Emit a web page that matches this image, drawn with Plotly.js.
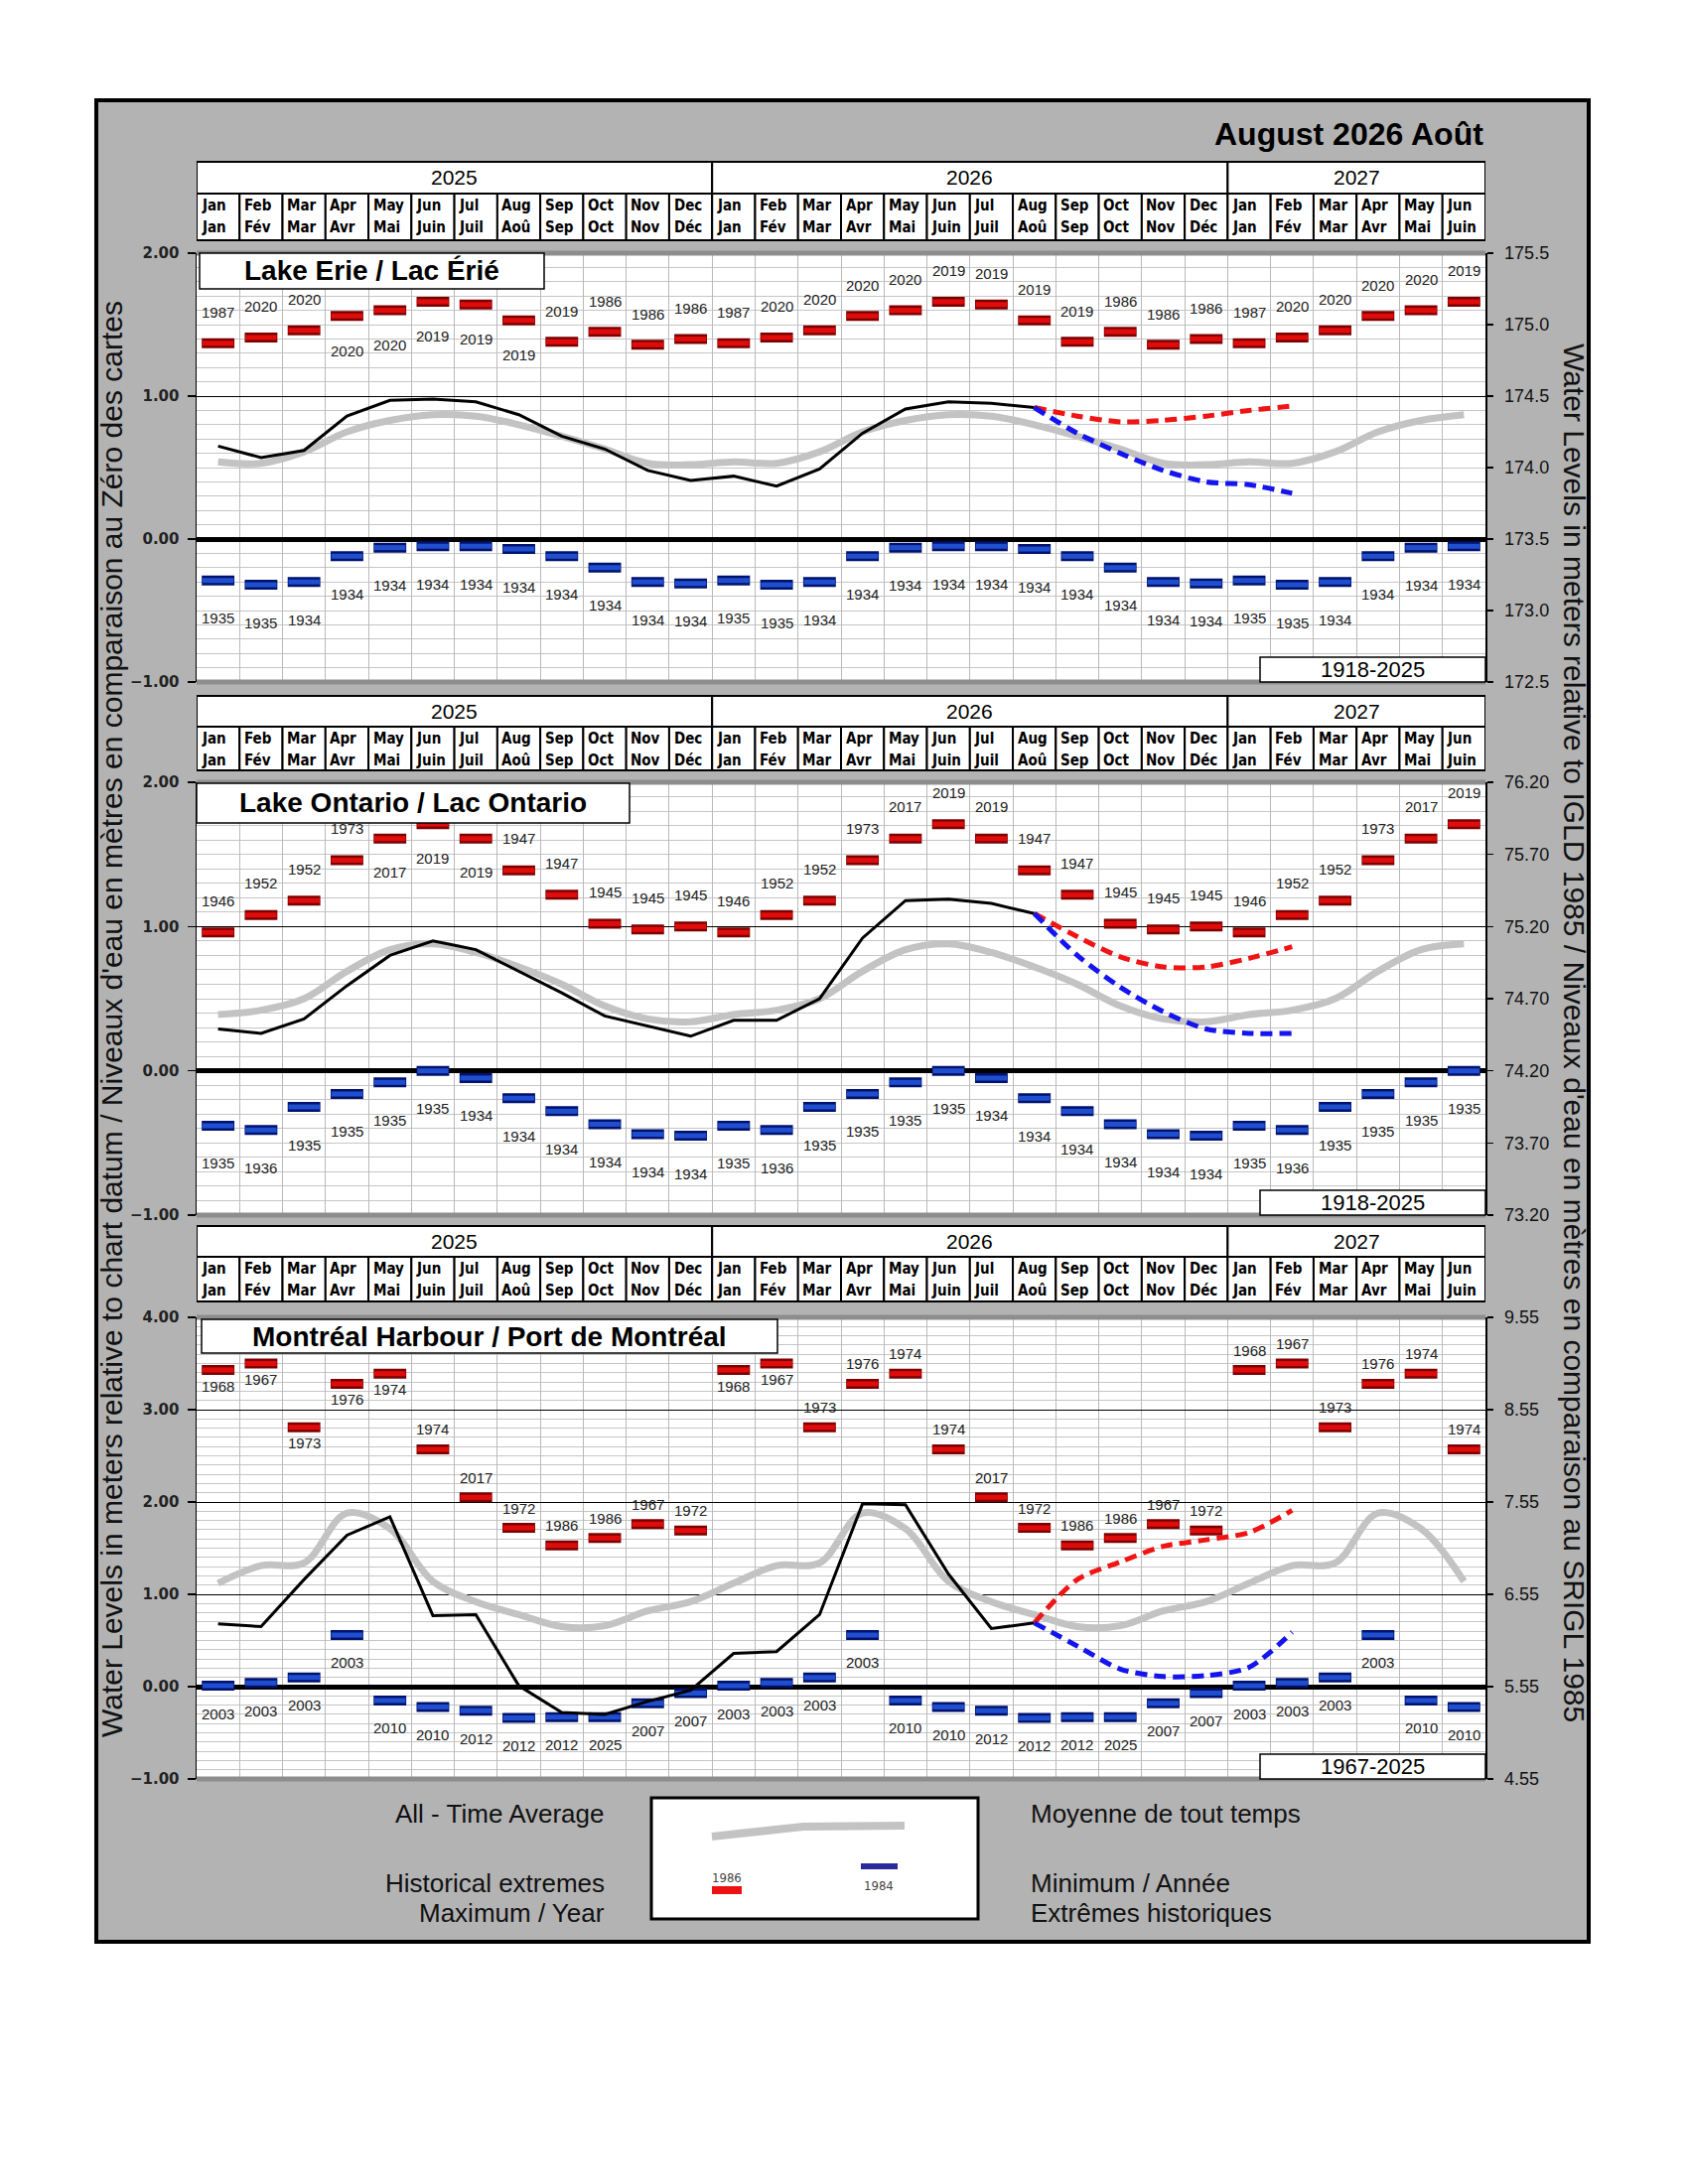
<!DOCTYPE html>
<html><head><meta charset="utf-8">
<script src="https://cdn.plot.ly/plotly-3.0.1.min.js"></script>
<style>body{margin:0;background:#fff}</style>
</head><body><div id="chart" style="width:1700px;height:2200px"></div>
<script>
// ---------- categories ----------
const monthsEn = ['Jan','Feb','Mar','Apr','May','Jun','Jul','Aug','Sep','Oct','Nov','Dec'];
const monthsFr = ['Jan','Fév','Mar','Avr','Mai','Juin','Juil','Aoû','Sep','Oct','Nov','Déc'];
const yearLabels = ['2025','2026','2027'];
const yearMonthCounts = [12, 12, 6];
const lastObservedIndex = 19; // Aug 2026

// ---------- Lake Erie ----------
const erieRecorded = [0.65,0.57,0.62,0.86,0.97,0.98,0.96,0.87,0.72,0.63,0.48,0.41,0.44,0.37,0.49,0.74,0.91,0.96,0.95,0.92];
const erieForecastHigh = [0.92,0.86,0.82,0.83,0.86,0.90,0.93];
const erieForecastLow = [0.92,0.74,0.60,0.48,0.40,0.38,0.32];
const erieAverage = [0.54,0.53,0.61,0.75,0.83,0.87,0.86,0.80,0.72,0.63,0.53,0.52];
const erieMax = [1.37,1.41,1.46,1.56,1.60,1.66,1.64,1.53,1.38,1.45,1.36,1.40];
const erieMaxYear = ['1987','2020','2020','2020','2020','2019','2019','2019','2019','1986','1986','1986'];
const erieMin = [-0.29,-0.32,-0.30,-0.12,-0.06,-0.05,-0.05,-0.07,-0.12,-0.20,-0.30,-0.31];
const erieMinYear = ['1935','1935','1934','1934','1934','1934','1934','1934','1934','1934','1934','1934'];
const erieMaxLabelBelow = [3,4,5,6,7];
const eriePeriod = '1918-2025';
const erieDatum = 173.5;

// ---------- Lake Ontario ----------
const ontarioRecorded = [0.29,0.26,0.36,0.59,0.80,0.90,0.84,0.69,0.54,0.38,0.31,0.24,0.35,0.35,0.50,0.92,1.18,1.19,1.16,1.09];
const ontarioForecastHigh = [1.09,0.93,0.79,0.72,0.72,0.78,0.86];
const ontarioForecastLow = [1.09,0.80,0.58,0.41,0.29,0.26,0.26];
const ontarioAverage = [0.39,0.42,0.50,0.69,0.84,0.88,0.82,0.72,0.60,0.45,0.36,0.34];
const ontarioMax = [0.96,1.08,1.18,1.46,1.61,1.71,1.61,1.39,1.22,1.02,0.98,1.00];
const ontarioMaxYear = ['1946','1952','1952','1973','2017','2019','2019','1947','1947','1945','1945','1945'];
const ontarioMin = [-0.38,-0.41,-0.25,-0.16,-0.08,0.00,-0.05,-0.19,-0.28,-0.37,-0.44,-0.45];
const ontarioMinYear = ['1935','1936','1935','1935','1935','1935','1934','1934','1934','1934','1934','1934'];
const ontarioMaxLabelBelow = [4,5,6];
const ontarioPeriod = '1918-2025';
const ontarioDatum = 74.20;

// ---------- Montreal Harbour ----------
const montrealRecorded = [0.68,0.65,1.16,1.64,1.84,0.77,0.78,0.01,-0.28,-0.30,-0.16,-0.04,0.36,0.38,0.78,1.98,1.97,1.22,0.63,0.69];
const montrealForecastHigh = [0.69,1.16,1.35,1.52,1.59,1.67,1.91];
const montrealForecastLow = [0.69,0.44,0.19,0.11,0.12,0.21,0.59];
const montrealAverage = [1.12,1.31,1.34,1.88,1.71,1.14,0.92,0.78,0.65,0.66,0.82,0.92];
const montrealMax = [3.43,3.50,2.81,3.28,3.39,2.57,2.05,1.72,1.53,1.61,1.76,1.69];
const montrealMaxYear = ['1968','1967','1973','1976','1974','1974','2017','1972','1986','1986','1967','1972'];
const montrealMin = [0.01,0.04,0.10,0.56,-0.15,-0.22,-0.26,-0.34,-0.33,-0.33,-0.18,-0.07];
const montrealMinYear = ['2003','2003','2003','2003','2010','2010','2012','2012','2012','2025','2007','2007'];
const montrealMaxLabelBelow = [0,1,2,3,4,12,13];
const montrealPeriod = '1967-2025';
const montrealDatum = 5.55;

// ---------- geometry / style ----------
const W = 1700, H = 2200;
const px = v => v / W;
const py = v => 1 - v / H;
const PLOT_X0 = 198, PLOT_X1 = 1496;
const nMonths = yearMonthCounts.reduce((a,b)=>a+b,0);
const monthIndex = Array.from({length:nMonths}, (_,i)=>i);
const monthCenters = monthIndex.map(i => i + 0.5);
const expand = arr => monthIndex.map(i => arr[i % 12]);
const SANS = 'Liberation Sans, Arial, sans-serif';
const COND = 'DejaVu Sans Condensed, DejaVu Sans, sans-serif';

const panels = [
  {title:'Lake Erie / Lac Érié', rec:erieRecorded, hi:erieForecastHigh, lo:erieForecastLow, avg:erieAverage,
   max:erieMax, maxYear:erieMaxYear, min:erieMin, minYear:erieMinYear, below:erieMaxLabelBelow, period:eriePeriod,
   yRange:[-1,2], datum:erieDatum, rDtick:0.5, rFmt:'.1f',
   top:255, bottom:687, header:[163,195,242], box:[201,548,255,291], lab:{up:31, down:35, minDown:38}},
  {title:'Lake Ontario / Lac Ontario', rec:ontarioRecorded, hi:ontarioForecastHigh, lo:ontarioForecastLow, avg:ontarioAverage,
   max:ontarioMax, maxYear:ontarioMaxYear, min:ontarioMin, minYear:ontarioMinYear, below:ontarioMaxLabelBelow, period:ontarioPeriod,
   yRange:[-1,2], datum:ontarioDatum, rDtick:0.5, rFmt:'.2f',
   top:788, bottom:1224, header:[701,732,776], box:[198,634,789,829], lab:{up:32, down:34, minDown:38}},
  {title:'Montréal Harbour / Port de Montréal', rec:montrealRecorded, hi:montrealForecastHigh, lo:montrealForecastLow, avg:montrealAverage,
   max:montrealMax, maxYear:montrealMaxYear, min:montrealMin, minYear:montrealMinYear, below:montrealMaxLabelBelow, period:montrealPeriod,
   yRange:[-1,4], datum:montrealDatum, rDtick:1, rFmt:'.2f',
   top:1327, bottom:1792, header:[1235,1266,1311], box:[203,783,1329,1363], lab:{up:20, down:16, minDown:28}}
];

function segments(vals, half){
  const x=[], y=[];
  vals.forEach((v,i)=>{ x.push(i+0.5-half, i+0.5+half, null); y.push(v, v, null); });
  return {x, y};
}

const traces = [];
const shapes = [];
const annotations = [];
const layout = {
  width:W, height:H, margin:{l:0,r:0,t:0,b:0},
  paper_bgcolor:'#ffffff', plot_bgcolor:'#ffffff', showlegend:false,
  font:{family:SANS, color:'#000'}
};

// outer grey frame
shapes.push({type:'rect', xref:'paper', yref:'paper', x0:px(97), x1:px(1600), y0:py(1956), y1:py(101),
  fillcolor:'#b3b3b3', line:{color:'#000', width:4}, layer:'below'});

annotations.push({xref:'paper', yref:'paper', x:px(1496), y:py(135), xanchor:'right', yanchor:'middle',
  text:'August 2026 Août', showarrow:false, font:{family:SANS, size:32, weight:'bold', color:'#000'}});

panels.forEach((p, k) => {
  const s = k === 0 ? '' : String(k+1);
  const xa = 'x' + s, ya = 'y' + s, yr = 'y' + (k+4);
  const maxSeries = expand(p.max), minSeries = expand(p.min);
  const maxYears = expand(p.maxYear), minYears = expand(p.minYear);

  // axes
  layout['xaxis' + s] = {domain:[px(PLOT_X0), px(PLOT_X1)], range:[0, nMonths], anchor:ya,
    tick0:0, dtick:1, showgrid:true, gridcolor:'#b9b9b9', gridwidth:1, showticklabels:false, ticks:'',
    zeroline:false, showline:false, fixedrange:true};
  layout['yaxis' + s] = {domain:[py(p.bottom), py(p.top)], range:p.yRange, anchor:xa,
    tick0:0, dtick:1, tickformat:'.2f', showgrid:true, gridcolor:'#000', gridwidth:1,
    minor:{tick0:0, dtick:0.1, showgrid:true, gridcolor:'#c6c6c6', gridwidth:1},
    zeroline:true, zerolinecolor:'#000', zerolinewidth:5,
    ticks:'outside', ticklen:8, tickcolor:'#000', tickwidth:1.5, showline:true, linecolor:'#000', linewidth:1.5,
    ticklabelstandoff:5, tickfont:{family:'DejaVu Sans, sans-serif', size:15, weight:'bold', color:'#222'}, fixedrange:true};
  layout['yaxis' + (k+4)] = {overlaying:ya, side:'right', anchor:xa,
    range:[p.yRange[0] + p.datum, p.yRange[1] + p.datum], tick0:p.datum, dtick:p.rDtick, tickformat:p.rFmt,
    showgrid:false, zeroline:false, ticks:'outside', ticklen:6, tickcolor:'#000', tickwidth:1.5,
    showline:true, linecolor:'#000', linewidth:1.5, ticklabelstandoff:8,
    tickfont:{family:SANS, size:18, color:'#111'}, fixedrange:true};

  // white plot area
  shapes.push({type:'rect', xref:xa+' domain', yref:ya+' domain', x0:0, x1:1, y0:0, y1:1,
    fillcolor:'#fff', line:{width:0}, layer:'below'});
  // grey border top/bottom
  [0,1].forEach(v => shapes.push({type:'line', xref:xa+' domain', yref:ya+' domain', x0:0, x1:1, y0:v, y1:v,
    line:{color:'#8d8d8d', width:5}, layer:'above'}));

  // header table
  const [hTop, hMid, hBot] = p.header;
  let start = 0;
  yearLabels.forEach((yl, j) => {
    const cnt = yearMonthCounts[j];
    shapes.push({type:'rect', xref:xa, yref:'paper', x0:start, x1:start+cnt, y0:py(hMid), y1:py(hTop),
      fillcolor:'#fff', line:{color:'#000', width:2}, layer:'below'});
    annotations.push({xref:xa, yref:'paper', x:start+cnt/2, y:py((hTop+hMid)/2), text:yl, showarrow:false,
      xanchor:'center', yanchor:'middle', font:{family:SANS, size:21, color:'#000'}});
    start += cnt;
  });
  monthIndex.forEach(i => {
    shapes.push({type:'rect', xref:xa, yref:'paper', x0:i, x1:i+1, y0:py(hBot), y1:py(hMid),
      fillcolor:'#fff', line:{color:'#000', width:2}, layer:'below'});
    annotations.push({xref:xa, yref:'paper', x:i+0.06, y:py(hMid+12), text:monthsEn[i%12], showarrow:false,
      xanchor:'left', yanchor:'middle', font:{family:COND, size:15, weight:'bold', color:'#000'}});
    annotations.push({xref:xa, yref:'paper', x:i+0.06, y:py(hMid+34), text:monthsFr[i%12], showarrow:false,
      xanchor:'left', yanchor:'middle', font:{family:COND, size:15, weight:'bold', color:'#000'}});
  });

  // extreme bars
  const mo = segments(maxSeries, 0.38), mi = segments(maxSeries, 0.362);
  const no = segments(minSeries, 0.38), ni = segments(minSeries, 0.362);
  traces.push({x:mo.x, y:mo.y, xaxis:xa, yaxis:ya, mode:'lines', line:{color:'#7d0000', width:10}, hoverinfo:'skip'});
  traces.push({x:mi.x, y:mi.y, xaxis:xa, yaxis:ya, mode:'lines', line:{color:'#e00c0c', width:5}, hoverinfo:'skip'});
  traces.push({x:no.x, y:no.y, xaxis:xa, yaxis:ya, mode:'lines', line:{color:'#00126e', width:10}, hoverinfo:'skip'});
  traces.push({x:ni.x, y:ni.y, xaxis:xa, yaxis:ya, mode:'lines', line:{color:'#1f4fcf', width:5}, hoverinfo:'skip'});

  // all-time average
  traces.push({x:monthCenters, y:expand(p.avg), xaxis:xa, yaxis:ya, mode:'lines',
    line:{color:'#c3c3c3', width:7, shape:'spline', smoothing:1}, hoverinfo:'skip'});
  // recorded
  traces.push({x:monthCenters.slice(0, p.rec.length), y:p.rec, xaxis:xa, yaxis:ya, mode:'lines',
    line:{color:'#000', width:3}, hoverinfo:'skip'});
  // forecasts
  const fx = monthCenters.slice(lastObservedIndex, lastObservedIndex + p.hi.length);
  traces.push({x:fx, y:p.hi, xaxis:xa, yaxis:ya, mode:'lines',
    line:{color:'#f01414', width:5, dash:'12px,7px', shape:'spline', smoothing:0.8}, hoverinfo:'skip'});
  traces.push({x:fx, y:p.lo, xaxis:xa, yaxis:ya, mode:'lines',
    line:{color:'#1414ee', width:5, dash:'12px,7px', shape:'spline', smoothing:0.8}, hoverinfo:'skip'});
  // right axis carrier (invisible)
  traces.push({x:[monthCenters[0]], y:[p.datum], xaxis:xa, yaxis:yr, mode:'markers',
    marker:{opacity:0, size:1}, hoverinfo:'skip'});

  // year labels for extremes
  monthIndex.forEach(i => {
    const below = p.below.includes(i);
    annotations.push({xref:xa, yref:ya, x:monthCenters[i], y:maxSeries[i], text:maxYears[i], showarrow:false,
      xanchor:'center', yanchor:'middle', yshift: below ? -p.lab.down : p.lab.up,
      font:{family:SANS, size:15, color:'#222'}});
    annotations.push({xref:xa, yref:ya, x:monthCenters[i], y:minSeries[i], text:minYears[i], showarrow:false,
      xanchor:'center', yanchor:'middle', yshift: -p.lab.minDown,
      font:{family:SANS, size:15, color:'#222'}});
  });

  // title box
  const [bx0, bx1, by0, by1] = p.box;
  shapes.push({type:'rect', xref:'paper', yref:'paper', x0:px(bx0), x1:px(bx1), y0:py(by1), y1:py(by0),
    fillcolor:'#fff', line:{color:'#000', width:1.5}, layer:'above'});
  annotations.push({xref:'paper', yref:'paper', x:px((bx0+bx1)/2), y:py((by0+by1)/2), text:p.title,
    showarrow:false, xanchor:'center', yanchor:'middle', font:{family:SANS, size:28, weight:'bold', color:'#000'}});

  // period box
  shapes.push({type:'rect', xref:'paper', yref:'paper', x0:px(1269), x1:px(PLOT_X1), y0:py(p.bottom), y1:py(p.bottom-25),
    fillcolor:'#fff', line:{color:'#000', width:1.5}, layer:'above'});
  annotations.push({xref:'paper', yref:'paper', x:px((1269+PLOT_X1)/2), y:py(p.bottom-12.5), text:p.period,
    showarrow:false, xanchor:'center', yanchor:'middle', font:{family:SANS, size:22, color:'#000'}});
});

// axis titles
annotations.push({xref:'paper', yref:'paper', x:px(112), y:py(1027), textangle:-90, showarrow:false,
  xanchor:'center', yanchor:'middle',
  text:"Water Levels in meters relative to chart datum / Niveaux d'eau en mètres en comparaison au Zéro des cartes",
  font:{family:SANS, size:30, color:'#111'}});
annotations.push({xref:'paper', yref:'paper', x:px(1585), y:py(1040), textangle:90, showarrow:false,
  xanchor:'center', yanchor:'middle',
  text:"Water Levels in meters relative to IGLD 1985 / Niveaux d'eau en mètres en comparaison au SRIGL 1985",
  font:{family:SANS, size:30, color:'#111'}});

// ---------- legend ----------
const legendLabelsLeft = ['All - Time Average', 'Historical extremes', 'Maximum / Year'];
const legendLabelsRight = ['Moyenne de tout temps', 'Minimum / Année', 'Extrêmes historiques'];
const legendRows = [1827, 1897, 1927];
const legendSampleYears = ['1986', '1984'];
const legendSampleCurve = [83, 93, 94];
const LEG = {x0:656, x1:985, y0:1811, y1:1933};
shapes.push({type:'rect', xref:'paper', yref:'paper', x0:px(LEG.x0), x1:px(LEG.x1), y0:py(LEG.y1), y1:py(LEG.y0),
  fillcolor:'#fff', line:{color:'#000', width:3}, layer:'below'});
layout.xaxis4 = {domain:[px(LEG.x0), px(LEG.x1)], range:[0, LEG.x1-LEG.x0], visible:false, anchor:'y7', fixedrange:true};
layout.yaxis7 = {domain:[py(LEG.y1), py(LEG.y0)], range:[0, LEG.y1-LEG.y0], visible:false, anchor:'x4', fixedrange:true};
traces.push({x:[61,153,255], y:legendSampleCurve, xaxis:'x4', yaxis:'y7', mode:'lines',
  line:{color:'#c3c3c3', width:8}, hoverinfo:'skip'});
traces.push({x:[61,91], y:[29,29], xaxis:'x4', yaxis:'y7', mode:'lines', line:{color:'#ee1111', width:8}, hoverinfo:'skip'});
traces.push({x:[211,248], y:[53,53], xaxis:'x4', yaxis:'y7', mode:'lines', line:{color:'#2a2a9c', width:6}, hoverinfo:'skip'});
annotations.push({xref:'x4', yref:'y7', x:76, y:42, text:legendSampleYears[0], showarrow:false,
  font:{family:COND, size:13, color:'#444'}});
annotations.push({xref:'x4', yref:'y7', x:229, y:34, text:legendSampleYears[1], showarrow:false,
  font:{family:COND, size:13, color:'#444'}});
legendLabelsLeft.forEach((t, i) => annotations.push({xref:'paper', yref:'paper', x:px(611), y:py(legendRows[i]),
  xanchor:'right', yanchor:'middle', text:t, showarrow:false, font:{family:SANS, size:26, color:'#111'}}));
legendLabelsRight.forEach((t, i) => annotations.push({xref:'paper', yref:'paper', x:px(1036), y:py(legendRows[i]),
  xanchor:'left', yanchor:'middle', text:t, showarrow:false, font:{family:SANS, size:26, color:'#111'}}));

layout.shapes = shapes;
layout.annotations = annotations;
traces.forEach(t => t.showlegend = false);
Plotly.newPlot('chart', traces, layout, {displayModeBar:false, staticPlot:true});
</script>
</body></html>
